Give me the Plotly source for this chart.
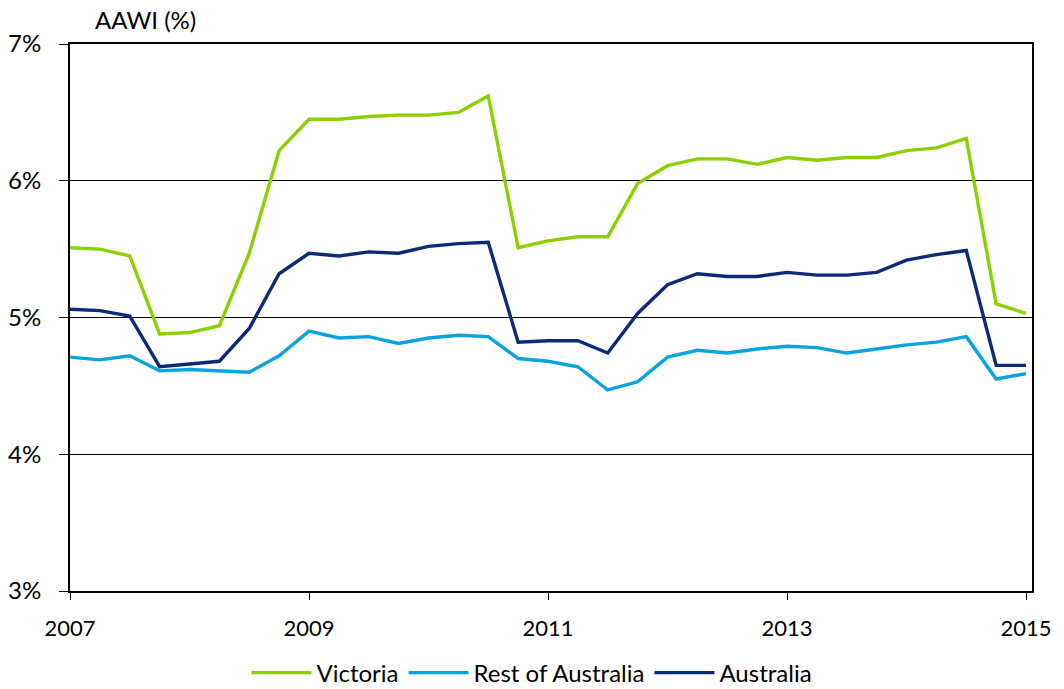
import plotly.graph_objects as go
import pandas as pd

quarters = [str(p) for p in pd.period_range("2007Q1", "2015Q1", freq="Q")]

victoria = [5.51, 5.50, 5.45, 4.88, 4.89, 4.94, 5.47, 6.22, 6.45, 6.45, 6.47, 6.48, 6.48, 6.50, 6.62,
            5.51, 5.56, 5.59, 5.59, 5.98, 6.11, 6.16, 6.16, 6.12, 6.17, 6.15, 6.17, 6.17, 6.22, 6.24, 6.31,
            5.10, 5.03]
rest_of_australia = [4.71, 4.69, 4.72, 4.61, 4.62, 4.61, 4.60, 4.72, 4.90, 4.85, 4.86, 4.81, 4.85, 4.87, 4.86,
                     4.70, 4.68, 4.64, 4.47, 4.53, 4.71, 4.76, 4.74, 4.77, 4.79, 4.78, 4.74, 4.77, 4.80, 4.82, 4.86,
                     4.55, 4.59]
australia = [5.06, 5.05, 5.01, 4.64, 4.66, 4.68, 4.92, 5.32, 5.47, 5.45, 5.48, 5.47, 5.52, 5.54, 5.55,
             4.82, 4.83, 4.83, 4.74, 5.03, 5.24, 5.32, 5.30, 5.30, 5.33, 5.31, 5.31, 5.33, 5.42, 5.46, 5.49,
             4.65, 4.65]

x_tick_labels = ["2007", "2009", "2011", "2013", "2015"]
y_tick_vals = [3, 4, 5, 6, 7]

x = [int(q[:4]) + (int(q[-1]) - 1) / 4 for q in quarters]

FONT = "Lato, Calibri, Carlito, sans-serif"

fig = go.Figure()
series = [
    ("Victoria", victoria, "#8CD000"),
    ("Rest of Australia", rest_of_australia, "#0AA3E0"),
    ("Australia", australia, "#0B2B77"),
]
for name, vals, color in series:
    fig.add_trace(go.Scatter(x=x, y=vals, mode="lines", name=name,
                             line=dict(color=color, width=3.4)))

fig.update_layout(
    width=1064, height=689,
    margin=dict(l=70, r=32, t=44, b=98, autoexpand=False),
    plot_bgcolor="white", paper_bgcolor="white",
    font=dict(family=FONT, size=24, color="black"),
    showlegend=True,
    legend=dict(orientation="h", x=0.5, xanchor="center", xref="container",
                y=16 / 689, yanchor="middle", yref="container",
                font=dict(family=FONT, size=24, color="black"),
                itemwidth=60, tracegroupgap=0, traceorder="normal"),
)
fig.add_annotation(text="AAWI (%)", xref="paper", yref="paper", x=(93 - 70) / 962, y=1.0,
                   xanchor="left", yanchor="bottom", yshift=8, showarrow=False,
                   font=dict(family=FONT, size=24, color="black"))

fig.update_xaxes(
    range=[2007, 2015.05],
    tickmode="array",
    tickvals=[int(t) for t in x_tick_labels],
    ticktext=x_tick_labels,
    ticks="outside", ticklen=7, tickcolor="black", tickwidth=1,
    ticklabelstandoff=10,
    showgrid=False, zeroline=False, automargin=False,
    showline=True, linecolor="black", linewidth=2, mirror=True,
    tickfont=dict(family=FONT, size=22, color="black"),
)
fig.update_yaxes(
    range=[3, 7],
    tickmode="array",
    tickvals=y_tick_vals,
    ticktext=[f"{v}%" for v in y_tick_vals],
    ticks="outside", ticklen=9, tickcolor="black", tickwidth=1,
    ticklabelstandoff=13,
    showgrid=True, gridcolor="black", gridwidth=1, zeroline=False, automargin=False,
    showline=True, linecolor="black", linewidth=2, mirror=True,
    tickfont=dict(family=FONT, size=24, color="black"),
)

fig.write_html("out.html", config={"displayModeBar": False},
               post_script="document.body.style.margin='0';document.body.style.overflow='hidden';")
